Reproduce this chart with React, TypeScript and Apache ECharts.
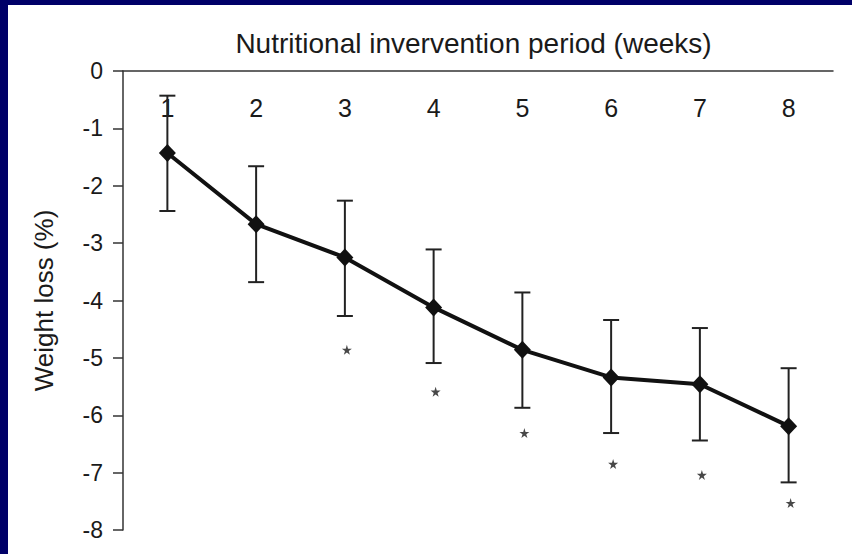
import React, { useEffect, useRef } from "react";
import * as echarts from "echarts";

const weeks = ["1", "2", "3", "4", "5", "6", "7", "8"];
const meanLoss = [-1.43, -2.67, -3.25, -4.12, -4.86, -5.34, -5.46, -6.19];
const errLower = [-2.44, -3.68, -4.27, -5.09, -5.87, -6.31, -6.44, -7.17];
const errUpper = [-0.43, -1.66, -2.26, -3.11, -3.86, -4.34, -4.48, -5.18];
const sigWeeks = ["3", "4", "5", "6", "7", "8"];
const sigMarkY = [-4.86, -5.59, -6.31, -6.85, -7.04, -7.53];

const FONT = "'Liberation Sans', Arial, Helvetica, sans-serif";
const STAR =
  "path://M50,0 L61,35 L98,35 L68,57 L79,91 L50,70 L21,91 L32,57 L2,35 L39,35 Z";

// chart area starts at page x=8, y=5 (navy frame on left and top)
const OX = 8;
const OY = 5;

export default function App() {
  const ref = useRef<HTMLDivElement>(null);
  useEffect(() => {
    if (!ref.current) return;
    const chart = echarts.init(ref.current, null, { renderer: "svg" });
    const errData = weeks.map((w, i) => [i, errLower[i], errUpper[i]]);
    const starData = sigWeeks.map((w, i) => [weeks.indexOf(w), sigMarkY[i]]);
    chart.setOption({
      animation: false,
      backgroundColor: "#ffffff",
      textStyle: { fontFamily: FONT },
      grid: { left: 123 - OX, top: 71 - OY, right: 19, bottom: 24, containLabel: false },
      xAxis: {
        type: "category",
        position: "top",
        data: weeks,
        boundaryGap: true,
        name: "Nutritional invervention period (weeks)",
        nameLocation: "middle",
        nameGap: 14,
        nameTextStyle: { fontSize: 28, color: "#1a1a1a", fontFamily: FONT, padding: [0, 9, 0, 0] },
        axisLine: { lineStyle: { color: "#333", width: 1.5 } },
        axisTick: { inside: true, length: 9, lineStyle: { color: "#333", width: 1.5 } },
        axisLabel: { inside: true, margin: 24, fontSize: 25, color: "#1a1a1a", fontFamily: FONT },
        splitLine: { show: false },
      },
      yAxis: {
        type: "value",
        min: -8,
        max: 0,
        interval: 1,
        name: "Weight loss (%)",
        nameLocation: "middle",
        nameRotate: 90,
        nameGap: 66,
        nameTextStyle: { fontSize: 26, color: "#1a1a1a", fontFamily: FONT },
        axisLine: { show: true, lineStyle: { color: "#333", width: 1.5 } },
        axisTick: { show: true, inside: false, length: 10, lineStyle: { color: "#333", width: 1.5 } },
        axisLabel: { margin: 20, fontSize: 23, color: "#1a1a1a", fontFamily: FONT },
        splitLine: { show: false },
      },
      series: [
        {
          type: "custom",
          z: 1,
          data: errData,
          renderItem: (params: any, api: any) => {
            const x = api.value(0);
            const lo = api.coord([x, api.value(1)]);
            const hi = api.coord([x, api.value(2)]);
            const hw = 8;
            const st = { stroke: "#222", lineWidth: 2 };
            return {
              type: "group",
              children: [
                { type: "line", shape: { x1: lo[0], y1: lo[1], x2: hi[0], y2: hi[1] }, style: st },
                { type: "line", shape: { x1: lo[0] - hw, y1: lo[1], x2: lo[0] + hw, y2: lo[1] }, style: st },
                { type: "line", shape: { x1: hi[0] - hw, y1: hi[1], x2: hi[0] + hw, y2: hi[1] }, style: st },
              ],
            };
          },
        },
        {
          type: "line",
          z: 3,
          data: meanLoss,
          symbol: "diamond",
          symbolSize: [17, 18],
          lineStyle: { color: "#111", width: 4 },
          itemStyle: { color: "#111" },
        },
        {
          type: "scatter",
          z: 2,
          data: starData,
          symbol: STAR,
          symbolSize: 10,
          symbolOffset: [2, 0],
          itemStyle: { color: "#1a1a1a" },
        },
      ],
    });
    return () => chart.dispose();
  }, []);
  return (
    <div
      style={{
        position: "fixed",
        left: 0,
        top: 0,
        width: 852,
        height: 554,
        background: "#000068",
        overflow: "hidden",
      }}
    >
      <div
        ref={ref}
        style={{
          position: "absolute",
          left: OX,
          top: OY,
          width: 852 - OX,
          height: 554 - OY,
          background: "#fff",
        }}
      />
    </div>
  );
}
